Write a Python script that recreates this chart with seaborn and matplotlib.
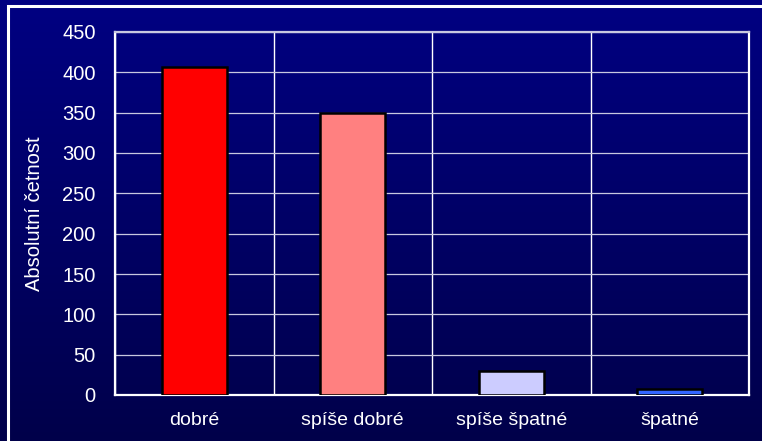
import numpy as np
import pandas as pd
import matplotlib
matplotlib.use("Agg")
import matplotlib.pyplot as plt
import seaborn as sns
from matplotlib.colors import LinearSegmentedColormap
from matplotlib.patches import Rectangle

# Data
kategorie = ["dobré", "spíše dobré", "spíše špatné", "špatné"]
cetnost = [406, 350, 30, 7]
barvy = ["#FF0000", "#FF8080", "#CCCCFF", "#3366FF"]
y_ticks = [0, 50, 100, 150, 200, 250, 300, 350, 400, 450]

df = pd.DataFrame({"kategorie": kategorie, "cetnost": cetnost})

sns.set_style("white")
plt.rcParams["font.family"] = ["Liberation Sans", "DejaVu Sans"]

fig = plt.figure(figsize=(7.62, 4.41), dpi=100)

# Gradient background over the whole figure
bg = fig.add_axes([0, 0, 1, 1], zorder=-10)
grad = np.linspace(0, 1, 256).reshape(-1, 1)
cmap = LinearSegmentedColormap.from_list("navy", ["#000082", "#00004A"])
bg.imshow(grad, aspect="auto", cmap=cmap, extent=[0, 1, 0, 1], origin="upper")
bg.set_xlim(0, 1)
bg.set_ylim(0, 1)
bg.axis("off")
# outer white frame (left and top visible)
bg.add_patch(Rectangle((8 / 762, -0.1), 1.1, 1 - 6 / 441 + 0.1, fill=False,
                       edgecolor="white", linewidth=2.2))

ax = fig.add_axes([115 / 762, 1 - 395 / 441, (749 - 115) / 762, (395 - 32) / 441])
ax.set_facecolor("none")

sns.barplot(data=df, x="kategorie", y="cetnost", hue="kategorie", palette=barvy,
            saturation=1, width=0.41, edgecolor="black", linewidth=1.8,
            legend=False, ax=ax, zorder=3)

ax.set_xlim(-0.5, len(kategorie) - 0.5)
ax.set_ylim(0, 450)
ax.set_yticks(y_ticks)

# grid: horizontal light, vertical at category boundaries
ax.set_xticks(np.arange(-0.5, len(kategorie)), minor=True)
ax.grid(axis="y", which="major", color="#C8C8E0", linewidth=0.9, zorder=0)
ax.grid(axis="x", which="minor", color="white", linewidth=1.0, zorder=0)
ax.set_axisbelow(True)

ax.tick_params(axis="x", which="major", length=0, pad=12, labelcolor="white",
               labelsize=14)
ax.tick_params(axis="x", which="minor", length=6, width=1.0, color="white",
               direction="out")
ax.tick_params(axis="y", length=0, pad=14, labelcolor="white", labelsize=14.5)

for side in ["left", "bottom", "right"]:
    ax.spines[side].set_color("white")
    ax.spines[side].set_linewidth(1.6)
ax.spines["top"].set_color("#C8C8E0")
ax.spines["top"].set_linewidth(1.6)

ax.set_xlabel("")
ax.set_ylabel("Absolutní četnost", color="white", fontsize=14.5, labelpad=13)

fig.savefig("out.png", dpi=100)
